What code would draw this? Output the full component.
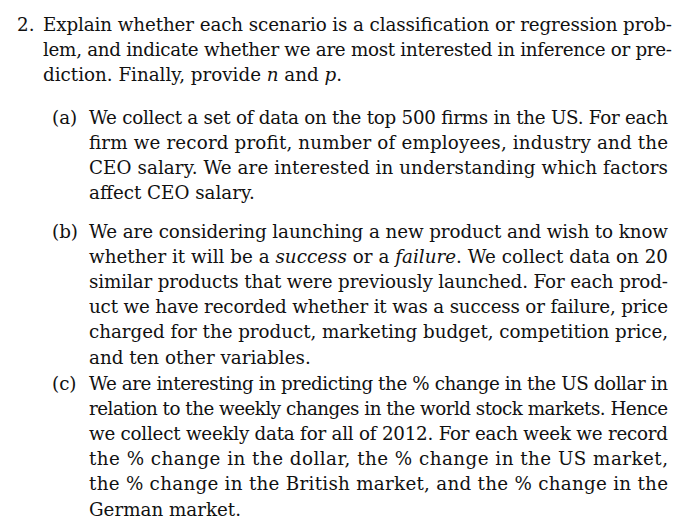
import React from "react";

type Seg = { t: string; i?: boolean };
type Line = { label?: string; segs: Seg[]; justify: boolean; indent: number };

const intro: Line[] = [
  { label: "2.", segs: [{ t: "Explain whether each scenario is a classification or regression prob-" }], justify: true, indent: 43 },
  { segs: [{ t: "lem, and indicate whether we are most interested in inference or pre-" }], justify: true, indent: 43 },
  { segs: [{ t: "diction. Finally, provide " }, { t: "n", i: true }, { t: " and " }, { t: "p", i: true }, { t: "." }], justify: false, indent: 43 },
];

const partA: Line[] = [
  { label: "(a)", segs: [{ t: "We collect a set of data on the top 500 firms in the US. For each" }], justify: true, indent: 89 },
  { segs: [{ t: "firm we record profit, number of employees, industry and the" }], justify: true, indent: 89 },
  { segs: [{ t: "CEO salary. We are interested in understanding which factors" }], justify: true, indent: 89 },
  { segs: [{ t: "affect CEO salary." }], justify: false, indent: 89 },
];

const partB: Line[] = [
  { label: "(b)", segs: [{ t: "We are considering launching a new product and wish to know" }], justify: true, indent: 89 },
  { segs: [{ t: "whether it will be a " }, { t: "success", i: true }, { t: " or a " }, { t: "failure", i: true }, { t: ". We collect data on 20" }], justify: true, indent: 89 },
  { segs: [{ t: "similar products that were previously launched. For each prod-" }], justify: true, indent: 89 },
  { segs: [{ t: "uct we have recorded whether it was a success or failure, price" }], justify: true, indent: 89 },
  { segs: [{ t: "charged for the product, marketing budget, competition price," }], justify: true, indent: 89 },
  { segs: [{ t: "and ten other variables." }], justify: false, indent: 89 },
];

const partC: Line[] = [
  { label: "(c)", segs: [{ t: "We are interesting in predicting the % change in the US dollar in" }], justify: true, indent: 89 },
  { segs: [{ t: "relation to the weekly changes in the world stock markets. Hence" }], justify: true, indent: 89 },
  { segs: [{ t: "we collect weekly data for all of 2012. For each week we record" }], justify: true, indent: 89 },
  { segs: [{ t: "the % change in the dollar, the % change in the US market," }], justify: true, indent: 89 },
  { segs: [{ t: "the % change in the British market, and the % change in the" }], justify: true, indent: 89 },
  { segs: [{ t: "German market." }], justify: false, indent: 89 },
];

const blocks: { lines: Line[]; y0: number; labelX: number }[] = [
  { lines: intro, y0: 31, labelX: 17 },
  { lines: partA, y0: 124, labelX: 52 },
  { lines: partB, y0: 238, labelX: 52 },
  { lines: partC, y0: 390, labelX: 52 },
];

const LH = 25.1;
const RIGHT = 672;

export default function App() {
  return (
    <svg width={700} height={530} style={{ position: "absolute", left: 0, top: 0, background: "#fff" }}
      fontFamily="'DejaVu Serif', 'Liberation Serif', serif" fontSize={18.3} fill="#111">
      {blocks.map((b, bi) =>
        b.lines.map((ln, li) => {
          const y = b.y0 + li * LH;
          const right = bi === 0 ? RIGHT : RIGHT - 4;
          return (
            <g key={`${bi}-${li}`}>
              {ln.label && <text x={b.labelX} y={y}>{ln.label}</text>}
              <text x={ln.indent} y={y}
                {...(ln.justify ? { textLength: right - ln.indent, lengthAdjust: "spacing" } : {})}>
                {ln.segs.map((s, si) => (
                  <tspan key={si} fontStyle={s.i ? "italic" : undefined}>{s.t}</tspan>
                ))}
              </text>
            </g>
          );
        })
      )}
    </svg>
  );
}
